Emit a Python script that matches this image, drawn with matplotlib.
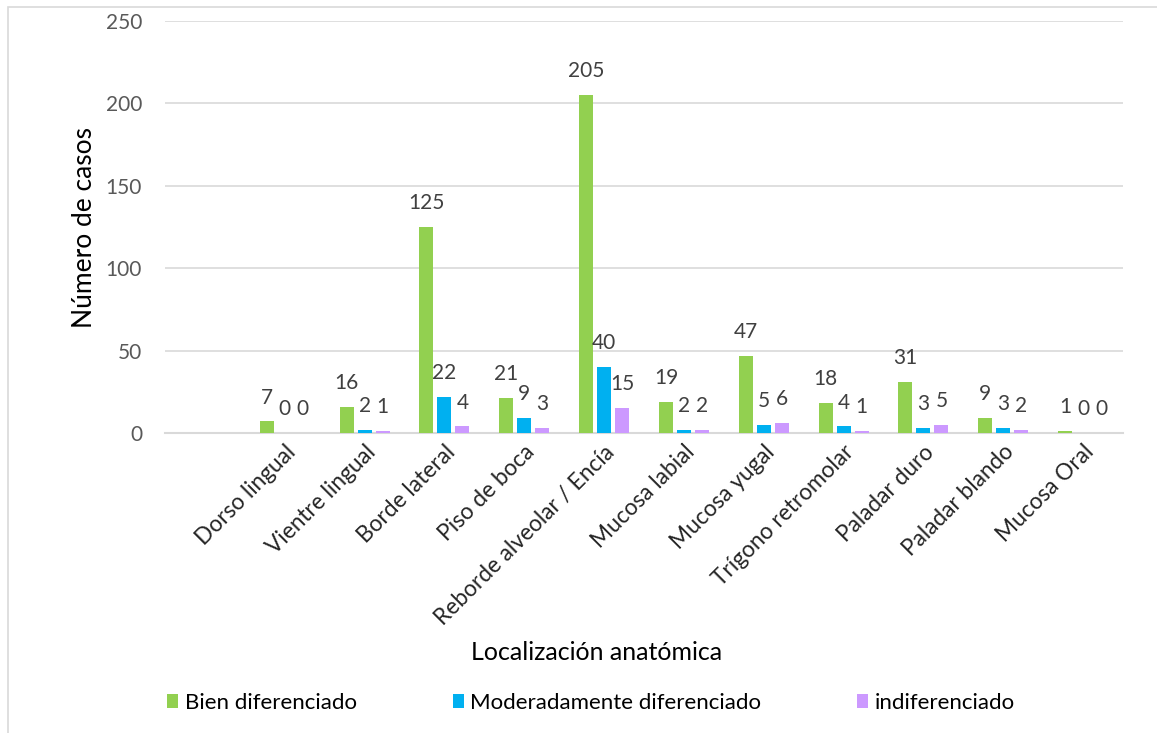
import numpy as np
import matplotlib.pyplot as plt
from matplotlib.patches import Rectangle

plt.rcParams['font.family'] = ['Lato', 'DejaVu Sans']

localizaciones = ["Dorso lingual", "Vientre lingual", "Borde lateral", "Piso de boca",
                  "Reborde alveolar / Encía", "Mucosa labial", "Mucosa yugal",
                  "Trígono retromolar", "Paladar duro", "Paladar blando", "Mucosa Oral"]
bien = [7, 16, 125, 21, 205, 19, 47, 18, 31, 9, 1]
moderado = [0, 2, 22, 9, 40, 2, 5, 4, 3, 3, 0]
indif = [0, 1, 4, 3, 15, 2, 6, 1, 5, 2, 0]

series = [("Bien diferenciado", bien, "#92D050"),
          ("Moderadamente diferenciado", moderado, "#00B0F0"),
          ("indiferenciado", indif, "#CC99FF")]

fig = plt.figure(figsize=(11.57, 7.33), dpi=100)
ax = fig.add_axes([0.1426, 0.4093, 0.828, 0.5621])

# marco del gráfico
fig.patches.append(Rectangle((8 / 1157, -0.01), 1.0, 1 - 6.5 / 733 + 0.01,
                             transform=fig.transFigure, fill=False,
                             edgecolor="#D9D9D9", linewidth=1.2))

x = np.arange(len(localizaciones))
w = 0.175
step = 0.225
for i, (nombre, vals, color) in enumerate(series):
    pos = x + (i - 1) * step
    ax.bar(pos, vals, width=w, color=color, label=nombre, zorder=3)
    for p, v in zip(pos, vals):
        ax.annotate(str(v), (p, v), xytext=(0, 10), textcoords="offset points",
                    ha="center", va="bottom", fontsize=15, color="#404040")

ax.set_xlim(-1.5, len(localizaciones) - 0.5)
ax.set_ylim(0, 250)
ax.set_yticks(range(0, 251, 50))
ax.yaxis.grid(True, color="#D9D9D9", linewidth=1.2, zorder=0)
ax.tick_params(axis="both", length=0)
ax.tick_params(axis="y", pad=16.5, labelsize=15, labelcolor="#595959")
ax.tick_params(axis="x", pad=6, labelsize=16.3, labelcolor="#262626")
ax.set_xticks(x)
ax.set_xticklabels(localizaciones, rotation=45, ha="right", rotation_mode="anchor")
for s in ["top", "right", "left"]:
    ax.spines[s].set_visible(False)
ax.spines["bottom"].set_color("#D9D9D9")
ax.spines["bottom"].set_linewidth(1.5)

fig.text(84 / 1157, 1 - 227 / 733, "Número de casos", fontsize=19,
         rotation=90, ha="center", va="center")
fig.text(597 / 1157, 1 - 652 / 733, "Localización anatómica", fontsize=18,
         ha="center", va="center")

fig.legend(loc="center", bbox_to_anchor=(591 / 1157, 1 - 703 / 733), ncol=3,
           frameon=False, fontsize=16, handlelength=0.5, handleheight=0.6,
           handletextpad=0.3, columnspacing=4.3)

fig.savefig("out.png", dpi=100)
